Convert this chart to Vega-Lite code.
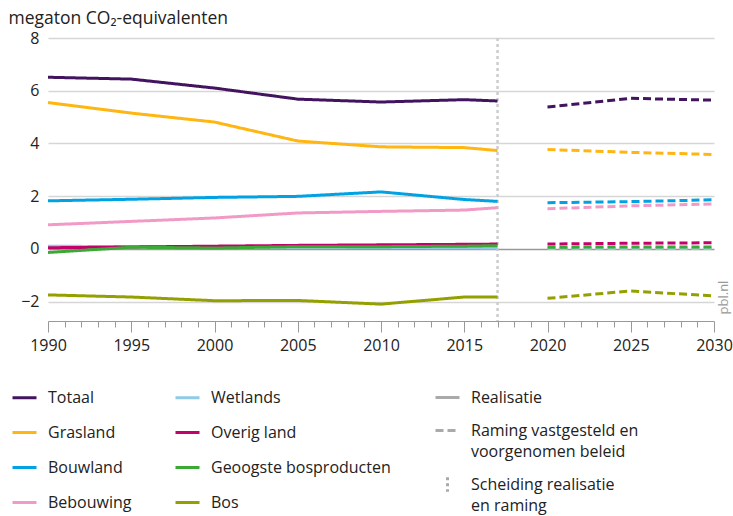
{
  "$schema": "https://vega.github.io/schema/vega-lite/v6.json",
  "width": 666,
  "height": 283,
  "autosize": {"type": "none"},
  "padding": {"left": 48, "top": 38, "right": 19, "bottom": 195},
  "config": {
    "font": "Open Sans",
    "view": {"stroke": null},
    "legend": {
      "labelFont": "Open Sans",
      "labelFontSize": 16,
      "labelColor": "#222",
      "symbolType": "stroke",
      "symbolStrokeWidth": 3,
      "symbolSize": 576,
      "padding": 0,
      "labelOffset": 10,
      "labelLimit": 400
    }
  },
  "datasets": {
    "series": [
      {"year": 1990, "value": 6.51, "serie": "Totaal", "type": "Realisatie"},
      {"year": 1995, "value": 6.44, "serie": "Totaal", "type": "Realisatie"},
      {"year": 2000, "value": 6.1, "serie": "Totaal", "type": "Realisatie"},
      {"year": 2005, "value": 5.68, "serie": "Totaal", "type": "Realisatie"},
      {"year": 2010, "value": 5.57, "serie": "Totaal", "type": "Realisatie"},
      {"year": 2015, "value": 5.66, "serie": "Totaal", "type": "Realisatie"},
      {"year": 2017, "value": 5.61, "serie": "Totaal", "type": "Realisatie"},
      {"year": 2020, "value": 5.38, "serie": "Totaal", "type": "Raming"},
      {"year": 2025, "value": 5.71, "serie": "Totaal", "type": "Raming"},
      {"year": 2030, "value": 5.64, "serie": "Totaal", "type": "Raming"},
      {"year": 1990, "value": 5.55, "serie": "Grasland", "type": "Realisatie"},
      {"year": 1995, "value": 5.15, "serie": "Grasland", "type": "Realisatie"},
      {"year": 2000, "value": 4.81, "serie": "Grasland", "type": "Realisatie"},
      {"year": 2005, "value": 4.09, "serie": "Grasland", "type": "Realisatie"},
      {"year": 2010, "value": 3.87, "serie": "Grasland", "type": "Realisatie"},
      {"year": 2015, "value": 3.84, "serie": "Grasland", "type": "Realisatie"},
      {"year": 2017, "value": 3.73, "serie": "Grasland", "type": "Realisatie"},
      {"year": 2020, "value": 3.77, "serie": "Grasland", "type": "Raming"},
      {"year": 2025, "value": 3.66, "serie": "Grasland", "type": "Raming"},
      {"year": 2030, "value": 3.58, "serie": "Grasland", "type": "Raming"},
      {"year": 1990, "value": 1.82, "serie": "Bouwland", "type": "Realisatie"},
      {"year": 1995, "value": 1.88, "serie": "Bouwland", "type": "Realisatie"},
      {"year": 2000, "value": 1.95, "serie": "Bouwland", "type": "Realisatie"},
      {"year": 2005, "value": 1.99, "serie": "Bouwland", "type": "Realisatie"},
      {"year": 2010, "value": 2.16, "serie": "Bouwland", "type": "Realisatie"},
      {"year": 2015, "value": 1.87, "serie": "Bouwland", "type": "Realisatie"},
      {"year": 2017, "value": 1.8, "serie": "Bouwland", "type": "Realisatie"},
      {"year": 2020, "value": 1.75, "serie": "Bouwland", "type": "Raming"},
      {"year": 2025, "value": 1.79, "serie": "Bouwland", "type": "Raming"},
      {"year": 2030, "value": 1.86, "serie": "Bouwland", "type": "Raming"},
      {"year": 1990, "value": 0.91, "serie": "Bebouwing", "type": "Realisatie"},
      {"year": 1995, "value": 1.04, "serie": "Bebouwing", "type": "Realisatie"},
      {"year": 2000, "value": 1.17, "serie": "Bebouwing", "type": "Realisatie"},
      {"year": 2005, "value": 1.36, "serie": "Bebouwing", "type": "Realisatie"},
      {"year": 2010, "value": 1.42, "serie": "Bebouwing", "type": "Realisatie"},
      {"year": 2015, "value": 1.47, "serie": "Bebouwing", "type": "Realisatie"},
      {"year": 2017, "value": 1.56, "serie": "Bebouwing", "type": "Realisatie"},
      {"year": 2020, "value": 1.52, "serie": "Bebouwing", "type": "Raming"},
      {"year": 2025, "value": 1.63, "serie": "Bebouwing", "type": "Raming"},
      {"year": 2030, "value": 1.7, "serie": "Bebouwing", "type": "Raming"},
      {"year": 1990, "value": 0.1, "serie": "Wetlands", "type": "Realisatie"},
      {"year": 1995, "value": 0.08, "serie": "Wetlands", "type": "Realisatie"},
      {"year": 2000, "value": 0.07, "serie": "Wetlands", "type": "Realisatie"},
      {"year": 2005, "value": 0.06, "serie": "Wetlands", "type": "Realisatie"},
      {"year": 2010, "value": 0.05, "serie": "Wetlands", "type": "Realisatie"},
      {"year": 2015, "value": 0.04, "serie": "Wetlands", "type": "Realisatie"},
      {"year": 2017, "value": 0.03, "serie": "Wetlands", "type": "Realisatie"},
      {"year": 2020, "value": 0.01, "serie": "Wetlands", "type": "Raming"},
      {"year": 2025, "value": 0.01, "serie": "Wetlands", "type": "Raming"},
      {"year": 2030, "value": 0.01, "serie": "Wetlands", "type": "Raming"},
      {"year": 1990, "value": 0.04, "serie": "Overig land", "type": "Realisatie"},
      {"year": 1995, "value": 0.07, "serie": "Overig land", "type": "Realisatie"},
      {"year": 2000, "value": 0.1, "serie": "Overig land", "type": "Realisatie"},
      {"year": 2005, "value": 0.13, "serie": "Overig land", "type": "Realisatie"},
      {"year": 2010, "value": 0.15, "serie": "Overig land", "type": "Realisatie"},
      {"year": 2015, "value": 0.17, "serie": "Overig land", "type": "Realisatie"},
      {"year": 2017, "value": 0.18, "serie": "Overig land", "type": "Realisatie"},
      {"year": 2020, "value": 0.18, "serie": "Overig land", "type": "Raming"},
      {"year": 2025, "value": 0.21, "serie": "Overig land", "type": "Raming"},
      {"year": 2030, "value": 0.23, "serie": "Overig land", "type": "Raming"},
      {"year": 1990, "value": -0.14, "serie": "Geoogste bosproducten", "type": "Realisatie"},
      {"year": 1995, "value": 0.06, "serie": "Geoogste bosproducten", "type": "Realisatie"},
      {"year": 2000, "value": 0.03, "serie": "Geoogste bosproducten", "type": "Realisatie"},
      {"year": 2005, "value": 0.08, "serie": "Geoogste bosproducten", "type": "Realisatie"},
      {"year": 2010, "value": 0.08, "serie": "Geoogste bosproducten", "type": "Realisatie"},
      {"year": 2015, "value": 0.1, "serie": "Geoogste bosproducten", "type": "Realisatie"},
      {"year": 2017, "value": 0.12, "serie": "Geoogste bosproducten", "type": "Realisatie"},
      {"year": 2020, "value": 0.06, "serie": "Geoogste bosproducten", "type": "Raming"},
      {"year": 2025, "value": 0.07, "serie": "Geoogste bosproducten", "type": "Raming"},
      {"year": 2030, "value": 0.07, "serie": "Geoogste bosproducten", "type": "Raming"},
      {"year": 1990, "value": -1.75, "serie": "Bos", "type": "Realisatie"},
      {"year": 1995, "value": -1.83, "serie": "Bos", "type": "Realisatie"},
      {"year": 2000, "value": -1.97, "serie": "Bos", "type": "Realisatie"},
      {"year": 2005, "value": -1.96, "serie": "Bos", "type": "Realisatie"},
      {"year": 2010, "value": -2.1, "serie": "Bos", "type": "Realisatie"},
      {"year": 2015, "value": -1.83, "serie": "Bos", "type": "Realisatie"},
      {"year": 2017, "value": -1.83, "serie": "Bos", "type": "Realisatie"},
      {"year": 2020, "value": -1.88, "serie": "Bos", "type": "Raming"},
      {"year": 2025, "value": -1.6, "serie": "Bos", "type": "Raming"},
      {"year": 2030, "value": -1.79, "serie": "Bos", "type": "Raming"}
    ],
    "split": [{"year": 2017, "type": "Scheiding"}],
    "note": [{"year": 2030, "value": -1.85, "text": "pbl.nl"}]
  },
  "layer": [
    {
      "data": {"name": "split"},
      "mark": {"type": "rule", "color": "#cccccc", "strokeWidth": 2.5},
      "encoding": {
        "x": {"field": "year", "type": "quantitative"},
        "strokeDash": {"field": "type", "type": "nominal"}
      }
    },
    {
      "data": {"name": "series"},
      "mark": {"type": "line", "strokeWidth": 3},
      "encoding": {
        "x": {
          "field": "year",
          "type": "quantitative",
          "scale": {"domain": [1990, 2030], "nice": false, "zero": false},
          "axis": {
            "title": null,
            "values": [1990,1991,1992,1993,1994,1995,1996,1997,1998,1999,2000,2001,2002,2003,2004,2005,2006,2007,2008,2009,2010,2011,2012,2013,2014,2015,2016,2017,2018,2019,2020,2021,2022,2023,2024,2025,2026,2027,2028,2029,2030],
            "tickCount": 60,
            "format": "d",
            "labelExpr": "datum.value % 5 === 0 ? datum.label : ''",
            "tickSize": {"condition": {"test": "datum.value % 5 === 0", "value": 11}, "value": 6},
            "grid": false,
            "domainColor": "#999999",
            "tickColor": "#999999",
            "labelFontSize": 16,
            "labelColor": "#222",
            "labelPadding": 5,
            "labelOverlap": false,
            "labelFlush": false
          }
        },
        "y": {
          "field": "value",
          "type": "quantitative",
          "scale": {"domain": [-2.74, 8], "nice": false, "zero": false},
          "axis": {
            "title": "megaton CO₂-equivalenten",
            "titleAngle": 0,
            "titleAlign": "left",
            "titleBaseline": "alphabetic",
            "titleX": -40,
            "titleY": -15,
            "titleFontSize": 17.5,
            "titleFontWeight": "normal",
            "titleColor": "#222",
            "values": [-2, 0, 2, 4, 6, 8],
            "domain": false,
            "ticks": false,
            "labelPadding": 9,
            "labelFontSize": 16,
            "labelColor": "#222",
            "gridColor": {"condition": {"test": "datum.value === 0", "value": "#999999"}, "value": "#d6d6d6"},
            "gridWidth": 1.5
          }
        },
        "color": {
          "field": "serie",
          "type": "nominal",
          "scale": {
            "domain": ["Totaal", "Grasland", "Bouwland", "Bebouwing", "Wetlands", "Overig land", "Geoogste bosproducten", "Bos"],
            "range": ["#42145f", "#ffb612", "#00a2e3", "#f29ac7", "#8fcae7", "#c4006b", "#3aa935", "#94a000"]
          },
          "legend": {
            "title": null,
            "orient": "none",
            "legendX": -37,
            "legendY": 346,
            "columns": 2,
            "columnPadding": 37,
            "rowPadding": 13
          }
        },
        "strokeDash": {
          "field": "type",
          "type": "nominal",
          "scale": {
            "domain": ["Realisatie", "Raming", "Scheiding"],
            "range": [[1, 0], [8, 4], [3, 3]]
          },
          "legend": {
            "title": null,
            "orient": "none",
            "legendX": 386,
            "legendY": 346,
            "symbolStrokeColor": "#aaaaaa",
            "rowPadding": 11,
            "labelExpr": "datum.label === 'Raming' ? ['Raming vastgesteld en', 'voorgenomen beleid'] : datum.label === 'Scheiding' ? ['Scheiding realisatie', 'en raming'] : datum.label",
            "encode": {
              "labels": {"update": {"lineHeight": {"value": 21}}},
              "symbols": {"update": {"shape": {"signal": "datum.value === 'Scheiding' ? 'M0,-0.6V0.6' : 'stroke'"}}}
            }
          }
        },
        "detail": {"field": "serie"}
      }
    },
    {
      "data": {"name": "note"},
      "mark": {"type": "text", "angle": 270, "align": "center", "baseline": "middle", "dy": 10, "fontSize": 13, "color": "#999999"},
      "encoding": {
        "x": {"field": "year", "type": "quantitative"},
        "y": {"field": "value", "type": "quantitative"},
        "text": {"field": "text"}
      }
    }
  ]
}
